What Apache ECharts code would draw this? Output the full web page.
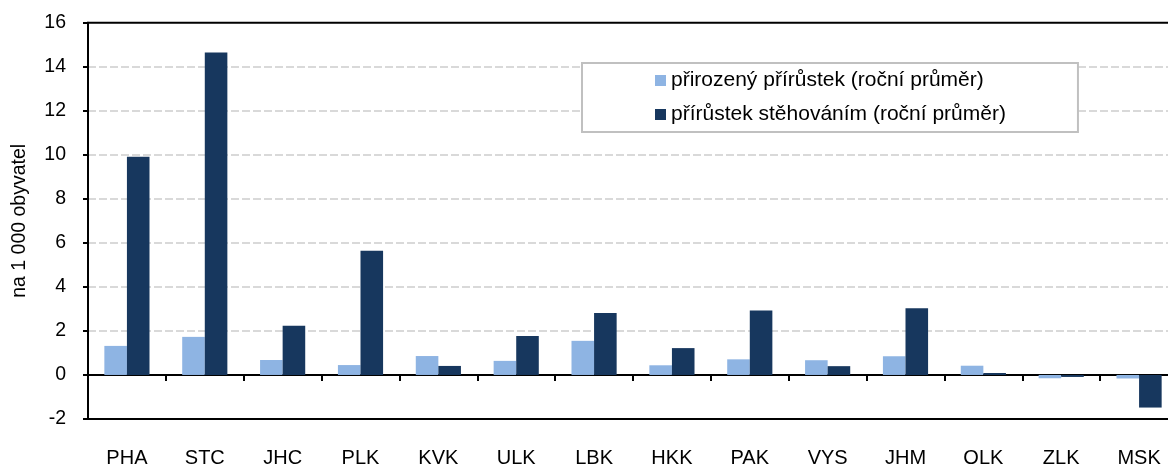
<!DOCTYPE html>
<html><head><meta charset="utf-8">
<script src="https://cdn.jsdelivr.net/npm/echarts@6/dist/echarts.min.js"></script>
<style>html,body{margin:0;padding:0;background:#fff}#c{width:1168px;height:464px}</style>
</head><body><div id="c"></div>
<script>
const categories = ['PHA','STC','JHC','PLK','KVK','ULK','LBK','HKK','PAK','VYS','JHM','OLK','ZLK','MSK'];
const natural = [1.32,1.73,0.68,0.45,0.86,0.64,1.55,0.44,0.71,0.67,0.85,0.42,-0.15,-0.16];
const migration = [9.91,14.65,2.23,5.64,0.41,1.77,2.82,1.22,2.93,0.40,3.03,0.09,-0.09,-1.48];
const seriesNames = ['přirozený přírůstek (roční průměr)','přírůstek stěhováním (roční průměr)'];
const yTitle = 'na 1 000 obyvatel';
const FONT = '"Liberation Sans", Arial, sans-serif';
const chart = echarts.init(document.getElementById('c'), null, {renderer:'canvas'});
chart.setOption({
  animation:false,
  textStyle:{fontFamily:FONT},
  grid:{left:88, top:22.7, bottom:45, right:-10, outerBoundsMode:'none', containLabel:false,
        show:true, borderColor:'#000', borderWidth:2, backgroundColor:'transparent'},
  legend:{
    orient:'vertical', left:582, top:63,
    padding:[7,72,7,73], itemGap:13,
    borderColor:'#c0c0c0', borderWidth:2, backgroundColor:'#fff',
    icon:'rect', itemWidth:11, itemHeight:11,
    textStyle:{fontFamily:FONT, fontSize:21, color:'#000'},
    data:seriesNames
  },
  xAxis:[{
    type:'category', data:categories,
    axisLine:{onZero:true, lineStyle:{color:'#000', width:2}},
    axisTick:{show:true, length:6, lineStyle:{color:'#000', width:2}},
    axisLabel:{show:false},
    splitLine:{show:false}
  },{
    type:'category', data:categories, position:'bottom',
    axisLine:{show:false, onZero:false},
    axisTick:{show:false},
    axisLabel:{margin:30, fontFamily:FONT, fontSize:20, lineHeight:18, color:'#000'},
    splitLine:{show:false}
  }],
  yAxis:{
    type:'value', min:-2, max:16, interval:2,
    name:yTitle, nameLocation:'middle', nameGap:58,
    nameTextStyle:{fontFamily:FONT, fontSize:19.5, color:'#000'},
    axisLine:{show:true, lineStyle:{color:'#000', width:2}},
    axisTick:{show:true, length:5, lineStyle:{color:'#000', width:2}},
    axisLabel:{margin:22, fontFamily:FONT, fontSize:19.5, color:'#000'},
    splitLine:{show:true, showMinLine:false, showMaxLine:false, lineStyle:{color:'#d9d9d9', width:2, type:[8,3]}}
  },
  series:[
    {name:seriesNames[0], type:'bar', data:natural, barGap:'0%', barCategoryGap:'42%', itemStyle:{color:'#8eb4e3'}},
    {name:seriesNames[1], type:'bar', data:migration, barGap:'0%', barCategoryGap:'42%', itemStyle:{color:'#17375e'}}
  ]
});
</script></body></html>
